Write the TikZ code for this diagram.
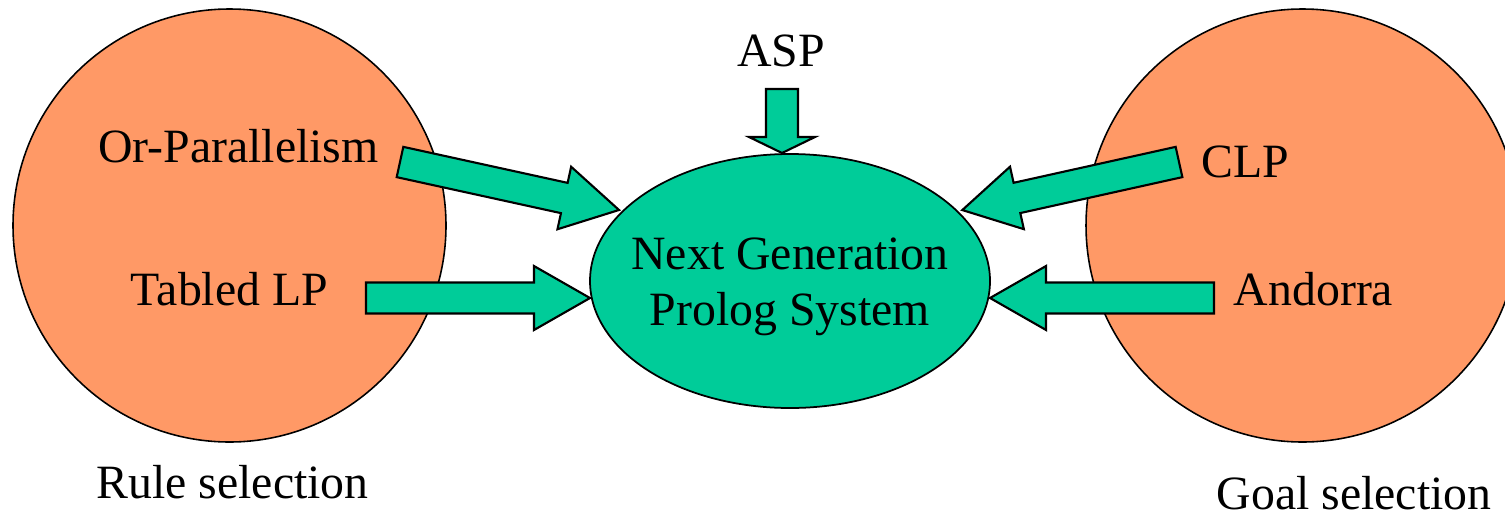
\documentclass[tikz,border=0pt]{standalone}
\usepackage{fontspec}
\setmainfont{Liberation Serif}
\usetikzlibrary{shapes.geometric}
\definecolor{ngorange}{HTML}{FF9966}
\definecolor{nggreen}{HTML}{00CC99}
\tikzset{
  bigcircle/.style={circle, draw=black, line width=0.45pt, fill=ngorange, inner sep=0pt, minimum size=4.33cm},
  core/.style={ellipse, draw=black, line width=0.5pt, fill=nggreen, inner sep=0pt, minimum width=4.0cm, minimum height=2.54cm},
  lbl/.style={inner sep=0pt, anchor=base, font=\fontsize{13.6}{15.9}\selectfont},
  arrowbody/.style={draw=black, line width=0.6pt, fill=nggreen, line join=miter}
}
% #1 name of tip, #2 tail point, #3 angle, #4 length, #5 shaft half width, #6 head half width, #7 head length
\newcommand{\BlockArrow}[7]{%
  \begin{scope}[shift={#2}, rotate=#3]
    \draw[arrowbody] (0,-#5) -- ({#4-#7},-#5) -- ({#4-#7},-#6) -- (#4,0) coordinate (#1)
      -- ({#4-#7},#6) -- ({#4-#7},#5) -- (0,#5) -- cycle;
  \end{scope}}
\begin{document}
\begin{tikzpicture}
\useasboundingbox (0,0) rectangle (15.05,5.16);
\node[bigcircle] (rulec) at (2.295,2.905) {};
\node[bigcircle] (goalc) at (13.025,2.905) {};
\node[core] (ngps) at (7.90,2.35) {};
\node[inner sep=0pt, align=center, font=\fontsize{13.6}{15.9}\selectfont] (ngpstext) at (7.90,2.29) {Next Generation\\Prolog System};

\node[lbl] (orpar) at (2.385,3.54) {Or-Parallelism};
\node[lbl] (tabled) at (2.295,2.11) {Tabled LP};
\node[lbl] (asp) at (7.81,4.50) {ASP};
\node[lbl] (clp) at (12.45,3.39) {CLP};
\node[lbl] (andorra) at (13.135,2.11) {Andorra};
\node[lbl] (rulesel) at (2.325,0.18) {Rule selection};
\node[lbl] (goalsel) at (13.54,0.07) {Goal selection};

\BlockArrow{aor}{(4.00,3.54)}{-12.36}{2.242}{0.155}{0.32}{0.56}
\BlockArrow{atab}{(3.66,2.18)}{0}{2.24}{0.155}{0.32}{0.56}
\BlockArrow{aclp}{(11.79,3.54)}{192.5}{2.22}{0.155}{0.32}{0.56}
\BlockArrow{aand}{(12.14,2.18)}{180}{2.24}{0.155}{0.32}{0.56}
\BlockArrow{aasp}{(7.82,4.27)}{-90}{0.64}{0.16}{0.33}{0.16}
\end{tikzpicture}
\end{document}
